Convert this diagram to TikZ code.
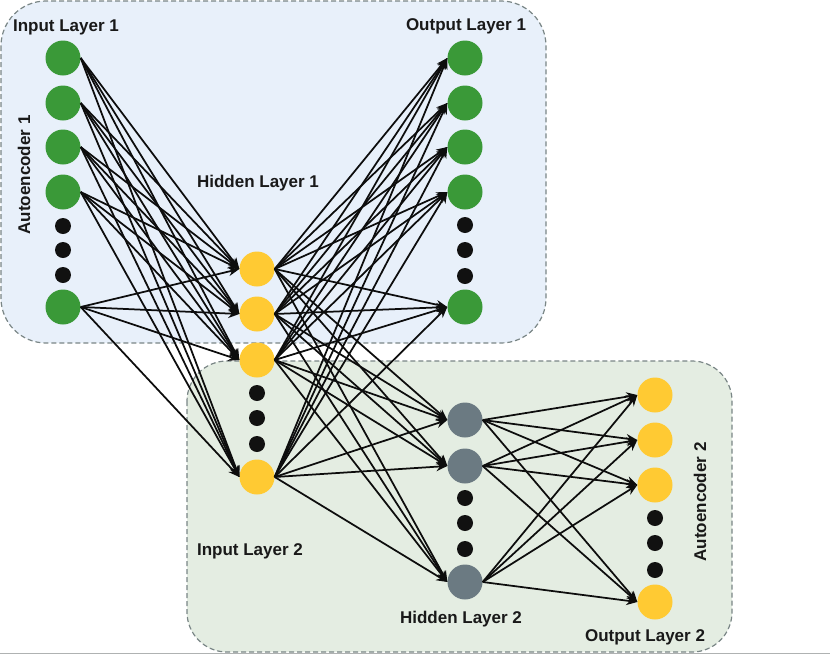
\documentclass[tikz,border=0pt]{standalone}
\usepackage{fontspec}
\setmainfont{Liberation Sans}
\usetikzlibrary{arrows.meta}
\definecolor{ngreen}{RGB}{58,153,56}
\definecolor{nyellow}{RGB}{255,202,51}
\definecolor{ngray}{RGB}{107,122,130}
\definecolor{ndot}{RGB}{17,17,17}
\definecolor{boxblue}{RGB}{232,240,250}
\definecolor{boxgreen}{RGB}{228,237,226}
\definecolor{boxline}{RGB}{122,134,134}
\definecolor{bottomline}{RGB}{175,178,178}
\begin{document}
\begin{tikzpicture}[x=1pt,y=-1pt,
  neuron/.style={circle,inner sep=0pt,minimum size=35pt,draw=none},
  gnode/.style={neuron,fill=ngreen},
  ynode/.style={neuron,fill=nyellow},
  hnode/.style={neuron,fill=ngray},
  dotnode/.style={circle,inner sep=0pt,minimum size=16pt,fill=ndot},
  conn/.style={line width=1.75pt,draw=black!95,-{Stealth[length=11pt,width=9pt]}},
  region/.style={draw=boxline,dash pattern=on 5pt off 3pt,line width=1.2pt},
  lbl/.style={font=\fontsize{17}{20}\selectfont\bfseries,anchor=base,inner sep=0pt,text=black!90}
]
\useasboundingbox (0,0) rectangle (830,654);
% regions
\draw[region,fill=boxblue,rounded corners=45pt] (1,1) rectangle (546,343);
\draw[region,fill=boxgreen,rounded corners=40pt] (187,361) rectangle (732,652);
\draw[draw=bottomline,line width=1pt] (0,653.5) -- (830,653.5);
% input layer 1
\foreach \n/\y in {1/58,2/103,3/147,4/192,5/307}
  \node[gnode] (I\n) at (63,\y) {};
\foreach \n/\y in {1/226,2/250,3/275}
  \node[dotnode] (Id\n) at (63,\y) {};
% hidden layer 1 / input layer 2
\foreach \n/\y in {1/269,2/314,3/360,4/477}
  \node[ynode] (H\n) at (257,\y) {};
\foreach \n/\y in {1/393,2/418,3/444}
  \node[dotnode] (Hd\n) at (257,\y) {};
% output layer 1
\foreach \n/\y in {1/58,2/103,3/147,4/192,5/307}
  \node[gnode] (O\n) at (465,\y) {};
\foreach \n/\y in {1/225,2/250,3/276}
  \node[dotnode] (Od\n) at (465,\y) {};
% hidden layer 2
\foreach \n/\y in {1/420,2/466,3/582}
  \node[hnode] (G\n) at (465,\y) {};
\foreach \n/\y in {1/498,2/523,3/549}
  \node[dotnode] (Gd\n) at (465,\y) {};
% output layer 2
\foreach \n/\y in {1/395,2/440,3/485,4/602}
  \node[ynode] (Y\n) at (655,\y) {};
\foreach \n/\y in {1/518,2/543,3/570}
  \node[dotnode] (Yd\n) at (655,\y) {};
% connections
\foreach \a in {1,...,5}
  \foreach \b in {1,...,4}
    \draw[conn] (I\a.east) -- (H\b.west);
\foreach \a in {1,...,4}
  \foreach \b in {1,...,5}
    \draw[conn] (H\a.east) -- (O\b.west);
\foreach \a in {1,...,4}
  \foreach \b in {1,...,3}
    \draw[conn] (H\a.east) -- (G\b.west);
\foreach \a in {1,...,3}
  \foreach \b in {1,...,4}
    \draw[conn] (G\a.east) -- (Y\b.west);
% labels
\node[lbl] (lI1) at (66,31) {Input Layer 1};
\node[lbl] (lO1) at (466,30) {Output Layer 1};
\node[lbl] (lH1) at (258,187) {Hidden Layer 1};
\node[lbl] (lI2) at (250,555) {Input Layer 2};
\node[lbl] (lH2) at (461,623) {Hidden Layer 2};
\node[lbl] (lO2) at (645,641) {Output Layer 2};
\node[lbl,rotate=90] (lA1) at (30,175) {Autoencoder 1};
\node[lbl,rotate=90] (lA2) at (706,502) {Autoencoder 2};
\end{tikzpicture}
\end{document}
